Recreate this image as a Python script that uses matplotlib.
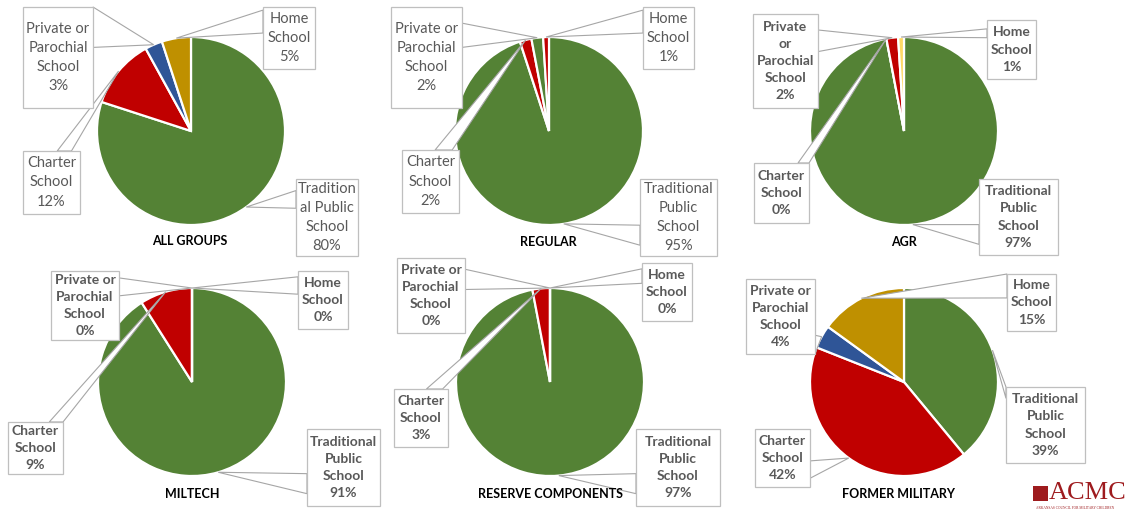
import numpy as np
import matplotlib
matplotlib.use("Agg")
import matplotlib.pyplot as plt
from matplotlib.patches import Rectangle, Polygon

# ------------------------------
# Данные (проценты с подписей)
# ------------------------------
groups = ["ALL GROUPS", "REGULAR", "AGR", "MILTECH", "RESERVE COMPONENTS", "FORMER MILITARY"]
categories = ["Traditional Public School", "Charter School", "Private or Parochial School", "Home School"]
traditional = [80, 95, 97, 91, 97, 39]
charter = [12, 2, 0, 9, 3, 42]
private = [3, 2, 2, 0, 0, 4]
home = [5, 1, 1, 0, 0, 15]

GREEN, RED, BLUE, GOLD, LYELLOW = "#548235", "#C00000", "#2F5597", "#BF9000", "#FFD966"
slice_colors = [
    [GREEN, RED, BLUE, GOLD],
    [GREEN, RED, GREEN, RED],
    [GREEN, RED, RED, LYELLOW],
    [GREEN, RED, BLUE, GOLD],
    [GREEN, RED, BLUE, GOLD],
    [GREEN, RED, BLUE, GOLD],
]

# ------------------------------
# Раскладка (пиксели, y сверху вниз)
# ------------------------------
W, H = 1127, 512
centers = [(191, 131), (549, 131), (904, 131), (192, 382), (550, 382), (904, 382)]
radius = 94
title_pos = [(190, 241), (548, 242), (904, 242), (192, 494), (550, 494), (898, 494)]
bold_labels = [False, False, True, True, True, True]

label_text = {
    0: ["Tradition\nal Public\nSchool", "Charter\nSchool", "Private or\nParochial\nSchool", "Home\nSchool"],
    2: ["Traditional\nPublic\nSchool", "Charter\nSchool", "Private\nor\nParochial\nSchool", "Home\nSchool"],
}
default_text = ["Traditional\nPublic\nSchool", "Charter\nSchool", "Private or\nParochial\nSchool", "Home\nSchool"]

# коробки подписей: (x0, y0, x1, y1), сторона привязки выноски и доли вдоль стороны
boxes = [
    [((296, 179, 358, 256), "l", (0.15, 0.38)),
     ((23, 151, 80, 214), "t", (0.6, 0.85)),
     ((23, 7, 93, 108), "r", (0.0, 0.4)),
     ((263, 7, 315, 69), "l", (0.05, 0.42))],
    [((640, 179, 717, 256), "l", (0.6, 0.86)),
     ((402, 150, 459, 213), "t", (0.58, 0.88)),
     ((391, 7, 462, 108), "r", (0.16, 0.4)),
     ((643, 7, 694, 69), "l", (0.05, 0.42))],
    [((979, 179, 1058, 255), "l", (0.6, 0.86)),
     ((754, 163, 809, 223), "t", (0.8, 1.0)),
     ((753, 14, 818, 108), "r", (0.17, 0.4)),
     ((987, 20, 1036, 79), "l", (0.15, 0.3))],
    [((307, 429, 380, 506), "l", (0.58, 0.84)),
     ((8, 422, 63, 474), "t", (0.75, 1.0)),
     ((51, 271, 119, 340), "r", (0.1, 0.36)),
     ((298, 271, 348, 329), "l", (0.1, 0.4))],
    [((636, 429, 720, 506), "l", (0.58, 0.84)),
     ((394, 389, 448, 447), "t", (0.6, 0.9)),
     ((397, 258, 465, 333), "r", (0.15, 0.42)),
     ((642, 263, 692, 321), "l", (0.1, 0.35))],
    [((1006, 387, 1085, 463), "l", (0.0, 0.15)),
     ((755, 429, 810, 487), "r", (0.55, 0.85)),
     ((746, 279, 815, 354), "r", (0.75, 1.0)),
     ((1007, 274, 1056, 331), "l", (0.0, 0.42))],
]

TEXT = "#595959"
FONT = ["Lato", "DejaVu Sans"]


def Y(y):
    return H - y


def edge_points(box, side, fr):
    x0, y0, x1, y1 = box
    pts = []
    for f in fr:
        if side == "l":
            pts.append((x0, Y(y0 + f * (y1 - y0))))
        elif side == "r":
            pts.append((x1, Y(y0 + f * (y1 - y0))))
        elif side == "t":
            pts.append((x0 + f * (x1 - x0), Y(y0)))
        else:
            pts.append((x0 + f * (x1 - x0), Y(y1)))
    return pts


fig = plt.figure(figsize=(W / 100, H / 100), dpi=100)
ax = fig.add_axes([0, 0, 1, 1])

for i, g in enumerate(groups):
    vals = [traditional[i], charter[i], private[i], home[i]]
    cx, cy = centers[i]
    ax.pie(vals, colors=slice_colors[i], startangle=90, counterclock=False,
           center=(cx, Y(cy)), radius=radius,
           wedgeprops=dict(edgecolor="white", linewidth=1.6))

    total = float(sum(vals))
    cum = np.cumsum([0] + vals) / total
    texts = label_text.get(i, default_text)
    if bold_labels[i]:
        weight, fs, ls = "bold", 10, 1.52
    else:
        weight, fs, ls = "normal", 10.5, 1.47
    for k in range(4):
        mid = (cum[k] + cum[k + 1]) / 2
        th = np.deg2rad(90 - 360 * mid)
        anchor = (cx + radius * np.cos(th), Y(cy) + radius * np.sin(th))
        box, side, fr = boxes[i][k]
        p1, p2 = edge_points(box, side, fr)
        ax.add_patch(Polygon([anchor, p1, p2], closed=True, facecolor="white",
                             edgecolor="#A6A6A6", linewidth=0.8, zorder=5))
        x0, y0, x1, y1 = box
        ax.add_patch(Rectangle((x0, Y(y1)), x1 - x0, y1 - y0, facecolor="white",
                               edgecolor="#BFBFBF", linewidth=0.9, zorder=6))
        ax.text((x0 + x1) / 2, Y((y0 + y1) / 2), f"{texts[k]}\n{vals[k]}%",
                ha="center", va="center", fontsize=fs, color=TEXT,
                fontweight=weight, family=FONT, linespacing=ls, zorder=7)

    tx, ty = title_pos[i]
    ax.text(tx, Y(ty), g, ha="center", va="center", fontsize=9,
            fontweight="bold", color="black", family=FONT, zorder=7)

# логотип ACMC
ax.add_patch(Rectangle((1033, Y(501)), 15, 15, facecolor="#9E1B1E", edgecolor="none", zorder=7))
ax.text(1049, Y(493), "ACMC", ha="left", va="center", fontsize=19,
        family=["Liberation Serif", "DejaVu Serif"], color="#9E1B1E", zorder=7)
ax.text(1036, Y(508), "ARKANSAS COUNCIL FOR MILITARY CHILDREN", ha="left", va="center",
        fontsize=2.5, family=["Liberation Serif", "DejaVu Serif"], color="#9E1B1E", zorder=7)

ax.set_xlim(0, W)
ax.set_ylim(0, H)
ax.set_aspect("auto")
ax.axis("off")
fig.savefig("out.png", dpi=100, facecolor="white")
